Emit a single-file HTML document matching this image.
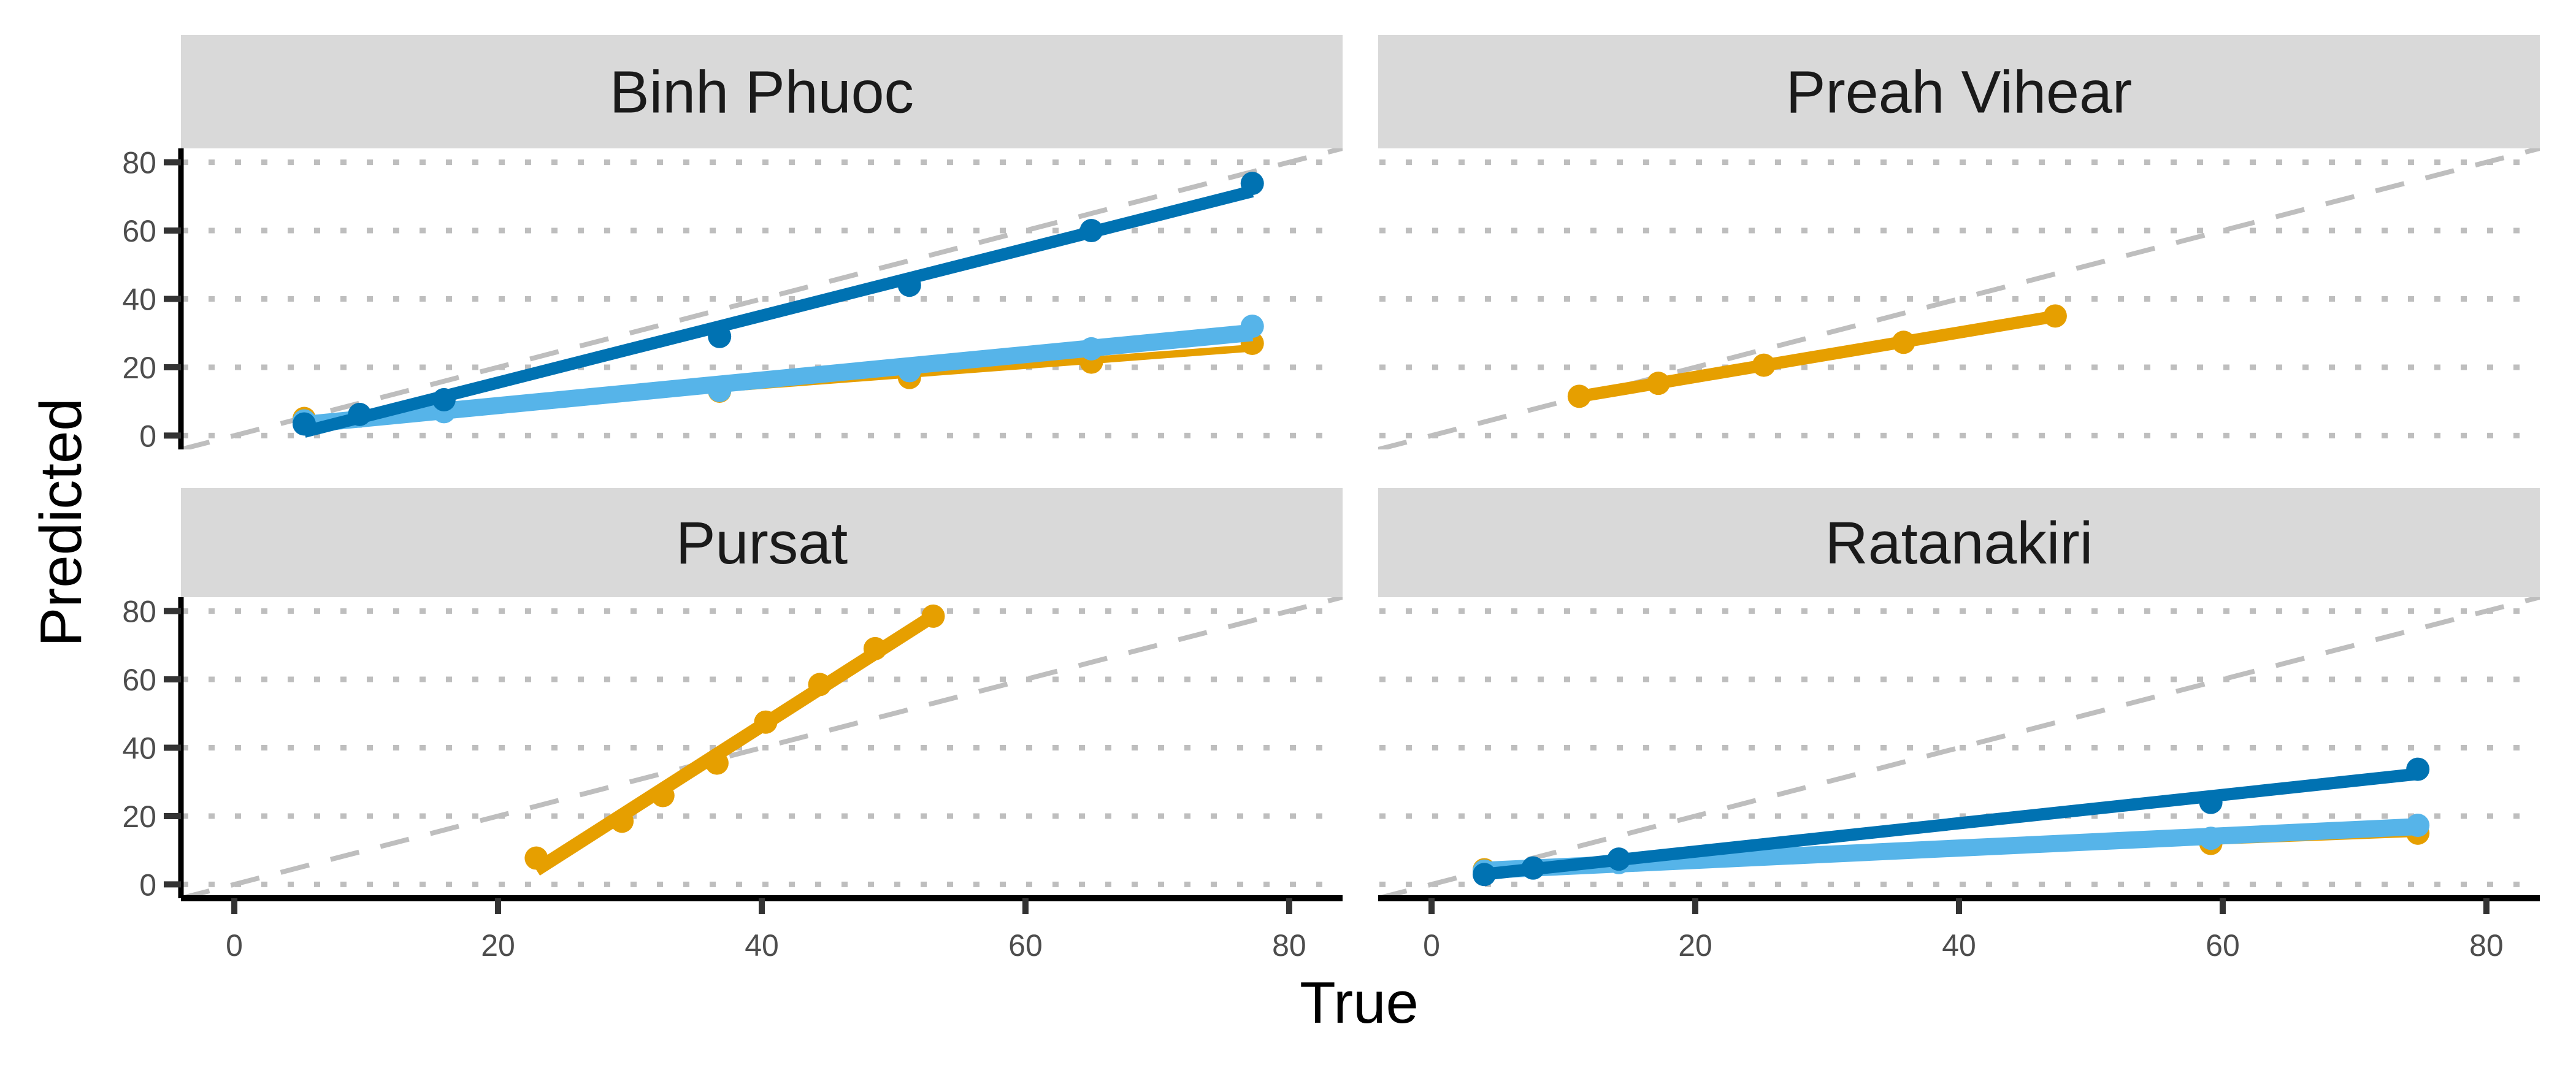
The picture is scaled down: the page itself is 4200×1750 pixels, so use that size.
<!DOCTYPE html>
<html><head><meta charset="utf-8"><style>
html,body{margin:0;padding:0;background:#fff;}
svg{display:block;font-family:"Liberation Sans",Arial,sans-serif;}
</style></head><body>
<svg id="chart" width="4200" height="1750" viewBox="0 0 4200 1750" xmlns="http://www.w3.org/2000/svg"></svg>
<script>
const panelNames = ["Binh Phuoc","Preah Vihear","Pursat","Ratanakiri"];
const xTicks = [0,20,40,60,80];
const yTicks = [0,20,40,60,80];
const bpDarkX = [5.3,9.5,15.9,36.8,51.2,65,77.2];
const bpDarkY = [3.4,6.2,10.5,29,44,60,73.8];
const bpLightX = [5.3,9.5,15.9,36.8,51.2,65,77.2];
const bpLightY = [4.3,5.7,7,13.2,19,25.4,32];
const bpOrangeX = [5.3,9.5,15.9,36.8,51.2,65,77.2];
const bpOrangeY = [5,5.8,8,13,17,21.5,27];
const pvOrangeX = [11.2,17.2,25.2,35.8,47.3];
const pvOrangeY = [11.5,15.3,20.6,27.3,35];
const puOrangeX = [22.9,29.4,32.5,36.6,40.3,44.4,48.6,53];
const puOrangeY = [7.7,18.5,26,35.5,47.5,58.5,69,78.5];
const raDarkX = [4,7.7,14.2,59.1,74.8];
const raDarkY = [2.9,4.8,7.4,24,33.7];
const raLightX = [4,7.7,14.2,59.1,74.8];
const raLightY = [3.9,4.8,6.4,13.5,17.3];
const raOrangeX = [4,59.1,74.8];
const raOrangeY = [4.3,12,15];

const C_DARK="#0072B2", C_LIGHT="#56B4E9", C_OR="#E69F00";
const panels = [
 {name:panelNames[0], left:295, top:242, strip:57, yaxis:true, xaxis:false,
  series:[{x:bpOrangeX,y:bpOrangeY,c:C_OR,w:12,n:"orange"},{x:bpLightX,y:bpLightY,c:C_LIGHT,w:28,n:"lightblue"},{x:bpDarkX,y:bpDarkY,c:C_DARK,w:20,n:"darkblue"}]},
 {name:panelNames[1], left:2247, top:242, strip:57, yaxis:false, xaxis:false,
  series:[{x:pvOrangeX,y:pvOrangeY,c:C_OR,w:20,n:"orange"}]},
 {name:panelNames[2], left:295, top:974, strip:796, yaxis:true, xaxis:true,
  series:[{x:puOrangeX,y:puOrangeY,c:C_OR,w:22,n:"orange"}]},
 {name:panelNames[3], left:2247, top:974, strip:796, yaxis:false, xaxis:true,
  series:[{x:raOrangeX,y:raOrangeY,c:C_OR,w:9,n:"orange"},{x:raLightX,y:raLightY,c:C_LIGHT,w:28,n:"lightblue"},{x:raDarkX,y:raDarkY,c:C_DARK,w:20,n:"darkblue"}]}
];
const PW=1894, PH=491, DMIN=-4.05, DMAX=84.05;
const NS="http://www.w3.org/2000/svg";
const svg=document.getElementById("chart");
function mk(tag,attrs,parent){const e=document.createElementNS(NS,tag);for(const k in attrs)e.setAttribute(k,attrs[k]);(parent||svg).appendChild(e);return e;}
function lm(xs,ys){const n=xs.length;let mx=0,my=0;for(let i=0;i<n;i++){mx+=xs[i];my+=ys[i];}mx/=n;my/=n;let sxy=0,sxx=0;for(let i=0;i<n;i++){sxy+=(xs[i]-mx)*(ys[i]-my);sxx+=(xs[i]-mx)**2;}const b=sxy/sxx;return [my-b*mx,b];}

panels.forEach((p,pi)=>{
  const sx=v=>p.left+(v-DMIN)/(DMAX-DMIN)*PW;
  const sy=v=>p.top+PH-(v-DMIN)/(DMAX-DMIN)*PH;
  const g=mk("g",{});
  
  
  const st=mk("rect",{x:p.left,y:p.strip,width:PW,height:p.top-p.strip,fill:"#d9d9d9"},g);
  
  
  const stt=mk("text",{x:p.left+PW/2,y:(p.strip+p.top)/2+34,"text-anchor":"middle","font-size":97,fill:"#1a1a1a"},g);
  stt.textContent=p.name;
  
  
  const clipId="clip"+pi;
  const cp=mk("clipPath",{id:clipId},g);mk("rect",{x:p.left,y:p.top,width:PW,height:PH},cp);
  yTicks.forEach(t=>{
    const l=mk("line",{x1:p.left+2,x2:p.left+PW,y1:sy(t),y2:sy(t),stroke:"#bebebe","stroke-width":9,"stroke-dasharray":"10 33"},g);
    
    
  });
  const idl=mk("line",{x1:sx(DMIN),y1:sy(DMIN),x2:sx(DMAX),y2:sy(DMAX),stroke:"#bebebe","stroke-width":8,"stroke-dasharray":"48 36","clip-path":"url(#"+clipId+")"},g);
  
  
  p.series.forEach(s=>{
    const [a,b]=lm(s.x,s.y);
    const x0=Math.min(...s.x),x1=Math.max(...s.x);
    const fl=mk("line",{x1:sx(x0),y1:sy(a+b*x0),x2:sx(x1),y2:sy(a+b*x1),stroke:s.c,"stroke-width":s.w,"stroke-linecap":"butt"},g);
    
    
    s.x.forEach((xv,i)=>{
      const c=mk("circle",{cx:sx(xv),cy:sy(s.y[i]),r:19,fill:s.c},g);
      
      
    });
  });
  if(p.yaxis){
    const ax=mk("line",{x1:p.left,x2:p.left,y1:p.top,y2:p.top+PH,stroke:"#000","stroke-width":9},g);
    
    
    yTicks.forEach(t=>{
      const tk=mk("line",{x1:p.left-28,x2:p.left,y1:sy(t),y2:sy(t),stroke:"#333","stroke-width":10},g);
      
      
      const tl=mk("text",{x:p.left-40,y:sy(t)+18,"text-anchor":"end","font-size":50,fill:"#4d4d4d"},g);
      tl.textContent=t;
      
      
    });
  }
  if(p.xaxis){
    const ax=mk("line",{x1:p.left,x2:p.left+PW,y1:p.top+PH,y2:p.top+PH,stroke:"#000","stroke-width":10},g);
    
    
    xTicks.forEach(t=>{
      const tk=mk("line",{x1:sx(t),x2:sx(t),y1:p.top+PH,y2:p.top+PH+26,stroke:"#333","stroke-width":10},g);
      
      
      const tl=mk("text",{x:sx(t),y:p.top+PH+94,"text-anchor":"middle","font-size":50,fill:"#4d4d4d"},g);
      tl.textContent=t;
      
      
    });
  }
});
const xt=mk("text",{x:2216,y:1668,"text-anchor":"middle","font-size":96,fill:"#000"});
xt.textContent="True";


const yt=mk("text",{x:0,y:0,"text-anchor":"middle","font-size":96,fill:"#000",transform:"translate(132,852) rotate(-90)"});
yt.textContent="Predicted";


</script>
</body></html>
